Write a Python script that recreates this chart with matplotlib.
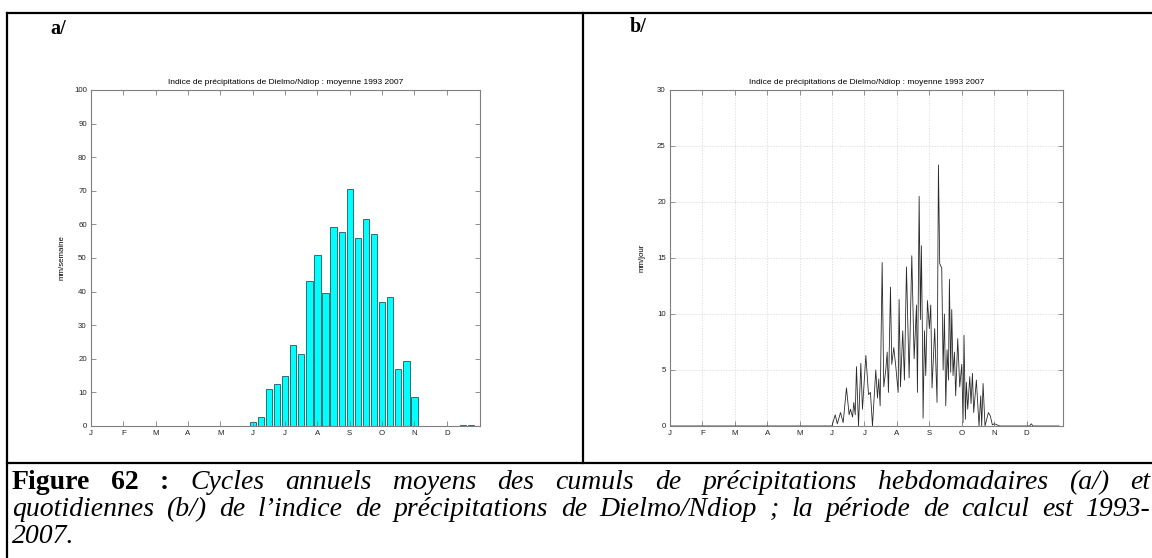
import matplotlib
matplotlib.use('Agg')
import matplotlib.pyplot as plt
from matplotlib.lines import Line2D
import numpy as np

W, H = 1152, 558

# ---- data: weekly totals (4 "weeks" per month, 48 per year), mm/semaine ----
week_vals = [0, 0, 0, 0, 0, 0, 0, 0, 0, 0, 0, 0, 0, 0, 0, 0, 0, 0, 0, 0,
             1.1, 2.7, 10.9, 12.4, 14.9, 24.0, 21.4, 43.3, 50.8, 39.5,
             59.1, 57.6, 70.4, 55.9, 61.5, 57.0, 36.8, 38.3, 16.9, 19.2,
             8.7, 0, 0, 0, 0, 0, 0.2, 0.2]

# ---- data: daily mean, mm/jour ----
day_x = [0, 151, 152, 155, 157, 160, 162.5, 165.6, 168.1, 169.4, 171.3, 172.5, 173.8,
         175, 176.9, 179.1, 180.6, 183.8, 186.3, 188.1, 190, 193.1, 194.7, 195.9,
         197.2, 199.1, 200.6, 202.5, 203.8, 205, 206.9, 208.1, 210, 211.9, 214.1,
         215, 216.3, 218.4, 220, 221.9, 224.4, 226.9, 229.1, 231.3, 232.2, 233.8,
         235, 235.9, 236.9, 237.5, 238.8, 240, 241.6, 243.4, 244.7, 245.9, 248.4,
         250.6, 251.9, 253.1, 255, 256.3, 257.5, 258.8, 260, 261.3, 262.2, 263.4,
         264.4, 265.6, 266.9, 268.1, 270, 271.9, 273.8, 275, 275.9, 277.2, 278.1,
         279.4, 281.3, 282.5, 283.8, 285, 287.5, 290, 291.6, 292.5, 293.8, 295.6,
         298.8, 300.6, 302.5, 304.4, 306.9, 309.4, 337.5, 339, 340.6, 365]
day_y = [0, 0, 0.0, 1.0, 0.2, 1.2, 0.3, 3.4, 1.0, 1.5, 0.8, 2.1, 1.0,
         5.3, 0.0, 5.6, 1.5, 6.3, 2.8, 3.0, 0.0, 5.0, 2.5, 4.2,
         1.8, 14.6, 3.5, 5.0, 6.6, 3.0, 12.4, 5.5, 7.0, 5.3, 3.0,
         11.3, 3.5, 8.5, 4.1, 14.2, 4.3, 15.2, 6.0, 10.8, 3.0, 20.5,
         9.5, 16.1, 8.0, 0.7, 8.5, 4.5, 11.2, 8.7, 10.8, 3.4, 8.7,
         2.1, 23.3, 14.5, 14.1, 5.0, 10.0, 1.8, 6.8, 4.1, 13.1, 4.8,
         10.4, 4.5, 6.6, 2.7, 7.8, 3.5, 5.5, 0.3, 8.1, 0.6, 3.9,
         1.5, 4.4, 2.0, 4.7, 1.2, 4.1, 0.0, 2.7, 0.0, 3.8, 0.0,
         1.2, 0.9, 0.1, 0.2, 0.1, 0.0, 0.0, 0.2, 0.0, 0.0]

months = ['J', 'F', 'M', 'A', 'M', 'J', 'J', 'A', 'S', 'O', 'N', 'D']
title = 'Indice de précipitations de Dielmo/Ndiop : moyenne 1993 2007'

sans = ['Liberation Sans', 'DejaVu Sans']
serif = ['Liberation Serif', 'DejaVu Serif']
fs = 5.7
grey = '#7f7f7f'

fig = plt.figure(figsize=(W / 100, H / 100), dpi=100)


def box(x, y, w, h):
    return [x / W, 1 - (y + h) / H, w / W, h / H]


def style_axes(ax):
    for s in ax.spines.values():
        s.set_color(grey)
        s.set_linewidth(0.8)
    ax.tick_params(direction='in', length=3.5, width=0.6, color=grey,
                   labelsize=fs, labelcolor='#222222', top=True, right=True, pad=3)
    for lab in ax.get_xticklabels() + ax.get_yticklabels():
        lab.set_family(sans)
    ax.set_title(title, fontsize=fs + 0.3, family=sans, pad=4)


# ---- a/ weekly bars ----
ax1 = fig.add_axes(box(91, 90, 389, 336))
wk = np.arange(len(week_vals))
ax1.bar(wk, week_vals, width=0.78, color='#00ffff', edgecolor='#2f6f6f', linewidth=0.7)
ax1.set_xlim(0, 48.1)
ax1.set_ylim(0, 100)
ax1.set_xticks(np.arange(12) * 4)
ax1.set_xticklabels(months)
ax1.set_yticks(np.arange(0, 101, 10))
ax1.set_ylabel('mm/semaine', fontsize=fs, family=sans, labelpad=6)
style_axes(ax1)

# ---- b/ daily line ----
ax2 = fig.add_axes(box(670, 90, 393, 336))
ax2.plot(day_x, day_y, color='#2a2a2a', linewidth=0.6)
ax2.set_xlim(0, 368.8)
ax2.set_ylim(0, 30)
ax2.set_xticks(np.arange(12) * 365 / 12)
ax2.set_xticklabels(months)
ax2.set_yticks(np.arange(0, 31, 5))
ax2.grid(True, linestyle=(0, (2, 2)), color='#d4d4d4', linewidth=0.5)
ax2.set_ylabel('mm/jour', fontsize=fs, family=sans, labelpad=8)
style_axes(ax2)

# panel letters
fig.text(50 / W, 1 - 29 / H, 'a/', fontsize=14.5, fontweight='bold', family=serif, va='center')
fig.text(630 / W, 1 - 27 / H, 'b/', fontsize=14.5, fontweight='bold', family=serif, va='center')

# table borders
lw = 1.6
for (x0, y0, x1, y1) in [(7, 13, W, 13), (7, 13, 7, H), (583, 13, 583, 463), (7, 463, W, 463)]:
    fig.add_artist(Line2D([x0 / W, x1 / W], [1 - y0 / H, 1 - y1 / H],
                          transform=fig.transFigure, color='black', linewidth=lw))

# caption, justified lines
cap1 = [('Figure', 'bold'), ('62', 'bold'), (':', 'bold'), ('Cycles', 'it'), ('annuels', 'it'),
        ('moyens', 'it'), ('des', 'it'), ('cumuls', 'it'), ('de', 'it'), ('précipitations', 'it'),
        ('hebdomadaires', 'it'), ('(a/)', 'it'), ('et', 'it')]
cap2 = [(w, 'it') for w in 'quotidiennes (b/) de l’indice de précipitations de Dielmo/Ndiop ; la période de calcul est 1993-'.split()]
cap_fs = 20

renderer = fig.canvas.get_renderer()


def put_line(words, ybase, x0, x1, justify=True):
    texts = []
    for w, st in words:
        kw = dict(fontsize=cap_fs, family=serif, va='baseline', ha='left')
        if st == 'bold':
            kw['fontweight'] = 'bold'
        else:
            kw['style'] = 'italic'
        texts.append(fig.text(x0 / W, 1 - ybase / H, w, **kw))
    widths = [t.get_window_extent(renderer).width for t in texts]
    gap = (x1 - x0 - sum(widths)) / (len(texts) - 1) if justify and len(texts) > 1 else 5
    gap = max(gap, 4)
    x = x0
    for t, wd in zip(texts, widths):
        t.set_x(x / W)
        x += wd + gap


put_line(cap1, 489, 12, 1150)
put_line(cap2, 516, 12, 1150)
put_line([('2007.', 'it')], 543, 12, 100, justify=False)

fig.savefig('out.png', dpi=100)
